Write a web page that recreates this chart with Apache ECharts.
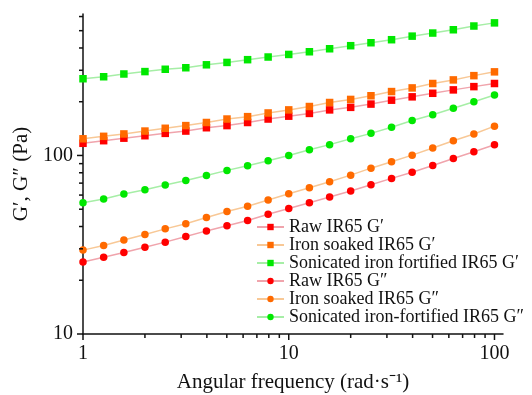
<!DOCTYPE html>
<html>
<head>
<meta charset="utf-8">
<script src="https://cdn.jsdelivr.net/npm/echarts@6/dist/echarts.min.js"></script>
<style>
  html, body { margin: 0; padding: 0; background: #fff; }
  #chart { width: 532px; height: 395px; }
</style>
</head>
<body>
<div id="chart"></div>
<script>
// angular frequency (rad/s), 10 points per decade
const freq = [1, 1.26, 1.58, 2, 2.51, 3.16, 3.98, 5.01, 6.31, 7.94, 10,
  12.6, 15.8, 20, 25.1, 31.6, 39.8, 50.1, 63.1, 79.4, 100];

// storage modulus G' (Pa)
const rawG1 = [117, 121, 125, 129, 133, 137, 143, 147, 153, 160, 166,
  172, 180, 186, 194, 204, 213, 223, 233, 243, 253];
const soakedG1 = [124, 128, 132, 137, 142, 147, 153, 160, 165, 173, 180,
  188, 198, 206, 216, 228, 239, 253, 265, 280, 294];
const sonicG1 = [269, 276, 286, 295, 304, 310, 322, 332, 344, 356, 368,
  381, 396, 412, 428, 445, 466, 485, 506, 531, 553];

// loss modulus G" (Pa)
const rawG2 = [25.3, 26.9, 28.6, 30.6, 32.7, 35.2, 37.8, 40.4, 43.2, 46.8, 50.4,
  54.4, 58.5, 63.2, 68.6, 74.4, 80.6, 87.9, 96.2, 104.9, 114.8];
const soakedG2 = [29.5, 31.3, 33.6, 36.1, 38.8, 41.5, 44.9, 48.5, 51.9, 56.3, 61.1,
  66.0, 71.3, 77.6, 84.9, 92.2, 100.4, 110, 121, 132, 146];
const sonicG2 = [54.4, 57.0, 60.8, 64.3, 68.3, 72.5, 77.3, 82.5, 87.6, 93.4, 100,
  107.6, 115, 124, 133, 144, 157, 169, 184, 200, 218];

const seriesNames = [
  'Raw IR65 G\u2032',
  'Iron soaked IR65 G\u2032',
  'Sonicated iron fortified IR65 G\u2032',
  'Raw IR65 G\u2033',
  'Iron soaked IR65 G\u2033',
  'Sonicated iron-fortified IR65 G\u2033'
];

// axis ticks
const xMajorTicks = [1, 10, 100];
const xMinorTicks = [2, 3, 4, 5, 6, 7, 8, 9, 20, 30, 40, 50, 60, 70, 80, 90];
const yMajorTicks = [10, 100];
const yMinorTicks = [20, 30, 40, 50, 60, 70, 80, 90, 200, 300, 400, 500, 600];

const X_MIN = 1, X_MAX = 110, Y_MIN = 10, Y_MAX = 620;
const FONT = '"Liberation Serif", "Times New Roman", serif';

function pairs(vals) {
  return freq.map((f, i) => [f, vals[i]]);
}

function lineSeries(name, vals, symbol, markerColor, lineColor) {
  return {
    name: name,
    type: 'line',
    data: pairs(vals),
    symbol: symbol,
    symbolSize: 7.5,
    showSymbol: true,
    z: 3,
    lineStyle: { color: lineColor, width: 1.5 },
    itemStyle: { color: markerColor },
    emphasis: { disabled: true }
  };
}

const tickData = []
  .concat(xMajorTicks.map(v => ['x', v, 6]))
  .concat(xMinorTicks.map(v => ['x', v, 4]))
  .concat(yMajorTicks.map(v => ['y', v, 6]))
  .concat(yMinorTicks.map(v => ['y', v, 4]));

const chart = echarts.init(document.getElementById('chart'));
chart.setOption({
  animation: false,
  backgroundColor: '#fff',
  grid: { left: 83, right: 29, top: 14, bottom: 61, containLabel: false, outerBoundsMode: 'none' },
  legend: {
    data: seriesNames,
    orient: 'vertical',
    left: 256,
    top: 218,
    itemWidth: 27,
    itemHeight: 8,
    itemGap: 0,
    padding: 0,
    textStyle: { fontFamily: FONT, fontSize: 18, color: '#111', padding: [0, 0, 0, 0] }
  },
  xAxis: {
    type: 'log',
    logBase: 10,
    min: X_MIN,
    max: X_MAX,
    name: 'Angular frequency (rad\u00b7s\u207b\u00b9)',
    nameLocation: 'middle',
    nameGap: 38,
    nameTextStyle: { fontFamily: FONT, fontSize: 21, color: '#111' },
    axisLine: { onZero: false, lineStyle: { color: '#111', width: 1.5 } },
    axisTick: { show: false },
    splitLine: { show: false },
    axisLabel: {
      fontFamily: FONT, fontSize: 20, color: '#111', margin: 10,
      showMaxLabel: false,
      formatter: v => (xMajorTicks.indexOf(Math.round(v)) >= 0 ? String(Math.round(v)) : '')
    }
  },
  yAxis: {
    type: 'log',
    logBase: 10,
    min: Y_MIN,
    max: Y_MAX,
    name: 'G\u2032, G\u2033 (Pa)',
    nameLocation: 'middle',
    nameGap: 50,
    nameTextStyle: { fontFamily: FONT, fontSize: 21, color: '#111' },
    axisLine: { onZero: false, lineStyle: { color: '#111', width: 1.5 } },
    axisTick: { show: false },
    splitLine: { show: false },
    axisLabel: {
      fontFamily: FONT, fontSize: 20, color: '#111', margin: 10,
      showMaxLabel: false,
      formatter: v => (yMajorTicks.indexOf(Math.round(v)) >= 0 ? String(Math.round(v)) : '')
    }
  },
  series: [
    lineSeries(seriesNames[0], rawG1, 'rect', '#ff0000', '#f0a4ac'),
    lineSeries(seriesNames[1], soakedG1, 'rect', '#ff6a00', '#f8c896'),
    lineSeries(seriesNames[2], sonicG1, 'rect', '#00e800', '#a6eea6'),
    lineSeries(seriesNames[3], rawG2, 'circle', '#ff0000', '#f0a4ac'),
    lineSeries(seriesNames[4], soakedG2, 'circle', '#ff6a00', '#f8c896'),
    lineSeries(seriesNames[5], sonicG2, 'circle', '#00e800', '#a6eea6'),
    {
      // outward axis ticks, major and minor, placed through the axis scales
      name: 'ticks',
      type: 'custom',
      silent: true,
      clip: false,
      z: 5,
      data: tickData,
      renderItem: function (params, api) {
        const d = tickData[params.dataIndex];
        const len = d[2];
        if (d[0] === 'x') {
          const p = api.coord([d[1], Y_MIN]);
          return { type: 'line', shape: { x1: p[0], y1: p[1], x2: p[0], y2: p[1] + len },
            style: { stroke: '#111', lineWidth: 1.5 } };
        }
        const p = api.coord([X_MIN, d[1]]);
        return { type: 'line', shape: { x1: p[0], y1: p[1], x2: p[0] - len, y2: p[1] },
          style: { stroke: '#111', lineWidth: 1.5 } };
      }
    }
  ]
});
</script>
</body>
</html>
